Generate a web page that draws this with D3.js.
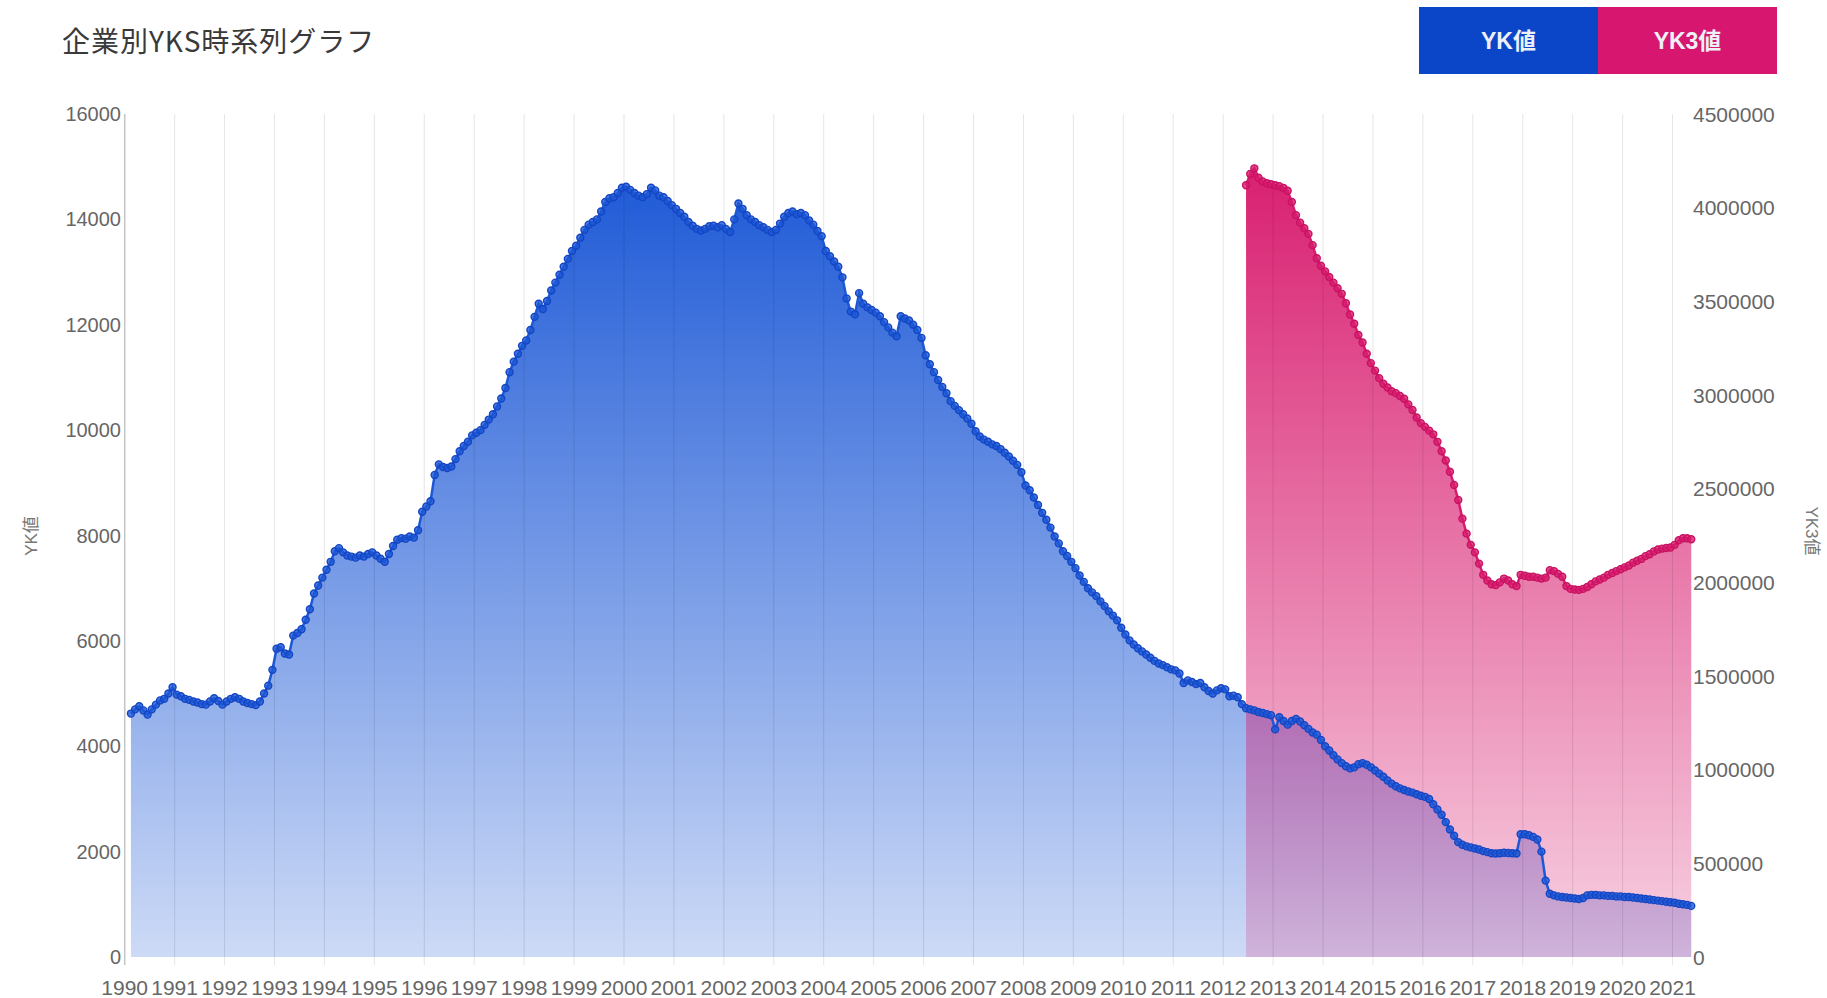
<!DOCTYPE html>
<html>
<head>
<meta charset="utf-8">
<script src="https://cdn.jsdelivr.net/npm/d3@7"></script>
<style>
  html, body { margin: 0; padding: 0; background: #fff; }
  svg { display: block; }
</style>
</head>
<body>
<svg id="chart" width="1827" height="998"></svg>
<script>
// monthly YK values, Feb 1990 .. May 2021
var ykStart = {year: 1990, month: 2};
var ykValues = [
  /*1990*/ 4620, 4700, 4760, 4680, 4600, 4700, 4790, 4870, 4900, 5000, 5120,
  /*1991*/ 4980, 4950, 4900, 4880, 4850, 4830, 4800, 4790, 4850, 4910, 4860, 4790,
  /*1992*/ 4850, 4900, 4930, 4900, 4850, 4820, 4800, 4780, 4850, 5000, 5150, 5450,
  /*1993*/ 5850, 5880, 5760, 5740, 6100, 6150, 6220, 6400, 6600, 6900, 7050, 7200,
  /*1994*/ 7350, 7500, 7700, 7760, 7680, 7620, 7600, 7580, 7620, 7600, 7650, 7680,
  /*1995*/ 7620, 7560, 7500, 7650, 7800, 7920, 7950, 7940, 7980, 7960, 8100, 8450,
  /*1996*/ 8550, 8650, 9150, 9350, 9300, 9280, 9310, 9450, 9600, 9700, 9780, 9900,
  /*1997*/ 9950, 10000, 10100, 10200, 10300, 10450, 10600, 10800, 11100, 11300, 11450, 11600,
  /*1998*/ 11700, 11900, 12150, 12400, 12300, 12450, 12650, 12800, 12950, 13100, 13250, 13400,
  /*1999*/ 13500, 13650, 13800, 13900, 13950, 14000, 14150, 14330, 14400, 14420, 14500, 14600,
  /*2000*/ 14620, 14560, 14500, 14450, 14420, 14480, 14600, 14550, 14450, 14420, 14350, 14270,
  /*2001*/ 14200, 14120, 14050, 13950, 13880, 13820, 13790, 13820, 13870, 13880, 13850, 13890,
  /*2002*/ 13820, 13760, 14000, 14300, 14200, 14080, 14000, 13950, 13890, 13850, 13800, 13760,
  /*2003*/ 13800, 13920, 14050, 14120, 14150, 14100, 14120, 14080, 13980, 13900, 13780, 13680,
  /*2004*/ 13400, 13300, 13200, 13100, 12900, 12500, 12250, 12200, 12600, 12400, 12330, 12280,
  /*2005*/ 12230, 12160, 12050, 11950, 11850, 11780, 12160, 12120, 12080, 12000, 11900, 11750,
  /*2006*/ 11420, 11250, 11100, 10950, 10820, 10700, 10550, 10460, 10380, 10300, 10220, 10120,
  /*2007*/ 9980, 9880, 9820, 9780, 9730, 9700, 9640, 9570, 9500, 9420, 9340, 9200,
  /*2008*/ 8950, 8860, 8720, 8580, 8430, 8300, 8150, 7980, 7850, 7700, 7610, 7500,
  /*2009*/ 7380, 7240, 7120, 7000, 6920, 6850, 6750, 6660, 6560, 6480, 6390, 6250,
  /*2010*/ 6120, 6010, 5930, 5860, 5800, 5740, 5680, 5620, 5570, 5540, 5500, 5460,
  /*2011*/ 5440, 5380, 5200, 5250, 5220, 5180, 5200, 5120, 5050, 5000, 5060, 5100,
  /*2012*/ 5080, 4950, 4960, 4930, 4800, 4720, 4700, 4680, 4650, 4630, 4610, 4590,
  /*2013*/ 4320, 4550, 4480, 4410, 4480, 4520, 4470, 4400, 4330, 4260, 4220, 4120,
  /*2014*/ 4000, 3920, 3830, 3750, 3680, 3620, 3580, 3600, 3660, 3680, 3650, 3600,
  /*2015*/ 3540, 3480, 3420, 3350, 3290, 3240, 3200, 3170, 3140, 3120, 3090, 3060,
  /*2016*/ 3040, 3000, 2900, 2800, 2700, 2560, 2420, 2300, 2180, 2130, 2100, 2080,
  /*2017*/ 2060, 2040, 2010, 1990, 1970, 1965, 1970, 1980, 1975, 1970, 1965, 2330,
  /*2018*/ 2330, 2310, 2280, 2230, 2000, 1450, 1200, 1170, 1150, 1140, 1130, 1120,
  /*2019*/ 1110, 1100, 1120, 1170, 1180, 1180, 1170, 1170, 1160, 1160, 1150, 1150,
  /*2020*/ 1140, 1140, 1130, 1120, 1110, 1100, 1090, 1080, 1070, 1060, 1050, 1040,
  /*2021*/ 1030, 1010, 1000, 990, 970
];

// monthly YK3 values, Jun 2012 .. May 2021
var yk3Start = {year: 2012, month: 6};
var yk3Values = [
  /*2012*/ 4120000, 4180000, 4210000, 4160000, 4140000, 4130000, 4125000,
  /*2013*/ 4120000, 4115000, 4105000, 4090000, 4030000, 3960000, 3920000, 3890000, 3860000, 3800000, 3730000, 3690000,
  /*2014*/ 3660000, 3630000, 3600000, 3570000, 3540000, 3490000, 3430000, 3380000, 3320000, 3280000, 3220000, 3170000,
  /*2015*/ 3130000, 3090000, 3060000, 3040000, 3020000, 3010000, 2995000, 2980000, 2950000, 2920000, 2880000, 2850000,
  /*2016*/ 2830000, 2810000, 2790000, 2750000, 2700000, 2650000, 2590000, 2520000, 2440000, 2340000, 2260000, 2200000,
  /*2017*/ 2160000, 2100000, 2040000, 2010000, 1990000, 1985000, 2000000, 2020000, 2010000, 1990000, 1980000, 2040000,
  /*2018*/ 2035000, 2030000, 2030000, 2025000, 2020000, 2025000, 2065000, 2060000, 2045000, 2030000, 1980000, 1965000,
  /*2019*/ 1962000, 1960000, 1965000, 1975000, 1990000, 2005000, 2015000, 2025000, 2040000, 2050000, 2060000, 2070000,
  /*2020*/ 2080000, 2090000, 2105000, 2115000, 2125000, 2140000, 2150000, 2165000, 2175000, 2180000, 2183000, 2186000,
  /*2021*/ 2200000, 2225000, 2235000, 2235000, 2230000
];

var yearTicks = d3.range(1990, 2022);
var leftTicks = [0, 2000, 4000, 6000, 8000, 10000, 12000, 14000, 16000];
var rightTicks = [0, 500000, 1000000, 1500000, 2000000, 2500000, 3000000, 3500000, 4000000, 4500000];

var titleText = '企業別YKS時系列グラフ';
var seriesNames = ['YK値', 'YK3値'];

// colours
var blue = '#1c58d6', blueDark = '#1446c4';
var pink = '#d81b6e', pinkDark = '#c81262';
var legendBlue = '#0b46c9', legendPink = '#d6166f';

function toSeries(start, vals) {
  // month index -> decimal year at mid-month
  return vals.map(function(v, i) {
    var m = start.month - 1 + i;
    return {t: start.year + Math.floor(m / 12) + ((m % 12) + 0.5) / 12, v: v};
  });
}

var yk = toSeries(ykStart, ykValues);
var yk3 = toSeries(yk3Start, yk3Values);

var svg = d3.select('#chart');
var plotTop = 114, plotBottom = 957;
var lastT = yk[yk.length - 1].t;

var x = d3.scaleLinear().domain([1990, lastT]).range([124.7, 124.7 + 49.93 * (lastT - 1990)]);
var yL = d3.scaleLinear().domain([0, 16000]).range([plotBottom, plotTop]);
var yR = d3.scaleLinear().domain([0, 4500000]).range([plotBottom, plotTop]);

var defs = svg.append('defs');
function grad(id, col, a0, a1) {
  var g = defs.append('linearGradient').attr('id', id)
    .attr('x1', 0).attr('y1', 0).attr('x2', 0).attr('y2', 1);
  g.append('stop').attr('offset', '0%').attr('stop-color', col).attr('stop-opacity', a0);
  g.append('stop').attr('offset', '100%').attr('stop-color', col).attr('stop-opacity', a1);
}
grad('gBlue', blue, 0.98, 0.22);
grad('gPink', pink, 0.98, 0.2);

// title
svg.append('text')
  .attr('x', 62).attr('y', 52)
  .style('font-family', '"Noto Sans CJK JP", sans-serif')
  .style('font-size', '28px')
  .style('letter-spacing', '1px')
  .style('fill', '#3a3a3a')
  .text(titleText);

// legend
var legend = svg.append('g');
[legendBlue, legendPink].forEach(function(c, i) {
  legend.append('rect')
    .attr('x', 1419 + i * 179).attr('y', 7)
    .attr('width', 179).attr('height', 67)
    .attr('fill', c);
  legend.append('text')
    .attr('x', 1419 + i * 179 + 89.5).attr('y', 41)
    .attr('text-anchor', 'middle').attr('dominant-baseline', 'central')
    .style('font-family', '"Liberation Sans", "Noto Sans CJK JP", sans-serif')
    .style('font-size', '23px').style('font-weight', 'bold')
    .style('fill', '#eef0f8')
    .text(seriesNames[i]);
});

// areas
var areaYK = d3.area().x(function(d) { return x(d.t); }).y0(plotBottom).y1(function(d) { return yL(d.v); });
var areaYK3 = d3.area().x(function(d) { return x(d.t); }).y0(plotBottom).y1(function(d) { return yR(d.v); });

svg.append('path').datum(yk).attr('d', areaYK).attr('fill', 'url(#gBlue)');
svg.append('path').datum(yk3).attr('d', areaYK3).attr('fill', 'url(#gPink)');

// vertical grid
svg.append('g').selectAll('line')
  .data(yearTicks.slice(1))
  .enter().append('line')
  .attr('x1', function(d) { return x(d); }).attr('x2', function(d) { return x(d); })
  .attr('y1', plotTop).attr('y2', plotBottom + 8)
  .attr('stroke', 'rgba(0,0,0,0.1)').attr('stroke-width', 1);

// left axis line
svg.append('line')
  .attr('x1', x(1990)).attr('x2', x(1990))
  .attr('y1', plotTop).attr('y2', plotBottom + 8)
  .attr('stroke', '#c4c4c4').attr('stroke-width', 1.5);

// x labels
svg.append('g').selectAll('text')
  .data(yearTicks)
  .enter().append('text')
  .attr('x', function(d) { return x(d); }).attr('y', 995)
  .attr('text-anchor', 'middle')
  .style('font-family', '"Liberation Sans", sans-serif')
  .style('font-size', '21px').style('fill', '#666')
  .text(function(d) { return d; });

// left tick labels
svg.append('g').selectAll('text')
  .data(leftTicks)
  .enter().append('text')
  .attr('x', 121).attr('y', function(d) { return yL(d); })
  .attr('text-anchor', 'end').attr('dominant-baseline', 'central')
  .style('font-family', '"Liberation Sans", sans-serif')
  .style('font-size', '20px').style('fill', '#666')
  .text(function(d) { return d; });

// right tick labels
svg.append('g').selectAll('text')
  .data(rightTicks)
  .enter().append('text')
  .attr('x', 1693).attr('y', function(d) { return yR(d); })
  .attr('text-anchor', 'start').attr('dominant-baseline', 'central')
  .style('font-family', '"Liberation Sans", sans-serif')
  .style('font-size', '21px').style('fill', '#666')
  .text(function(d) { return d; });

// axis titles
svg.append('text')
  .attr('transform', 'translate(31,536) rotate(-90)')
  .attr('text-anchor', 'middle').attr('dominant-baseline', 'central')
  .style('font-family', '"Liberation Sans", "Noto Sans CJK JP", sans-serif')
  .style('font-size', '17px').style('fill', '#777')
  .text(seriesNames[0]);
svg.append('text')
  .attr('transform', 'translate(1811,531) rotate(90)')
  .attr('text-anchor', 'middle').attr('dominant-baseline', 'central')
  .style('font-family', '"Liberation Sans", "Noto Sans CJK JP", sans-serif')
  .style('font-size', '17px').style('fill', '#777')
  .text(seriesNames[1]);

// lines + markers
function drawSeries(data, yScale, col, dark) {
  var line = d3.line().x(function(d) { return x(d.t); }).y(function(d) { return yScale(d.v); });
  svg.append('path').datum(data).attr('d', line)
    .attr('fill', 'none').attr('stroke', col).attr('stroke-width', 2.5);
  svg.append('g').selectAll('circle')
    .data(data)
    .enter().append('circle')
    .attr('cx', function(d) { return x(d.t); })
    .attr('cy', function(d) { return yScale(d.v); })
    .attr('r', 3.5)
    .attr('fill', col).attr('fill-opacity', 0.8)
    .attr('stroke', dark).attr('stroke-width', 1.4);
}
drawSeries(yk3, yR, pink, pinkDark);
drawSeries(yk, yL, blue, blueDark);
</script>
</body>
</html>
